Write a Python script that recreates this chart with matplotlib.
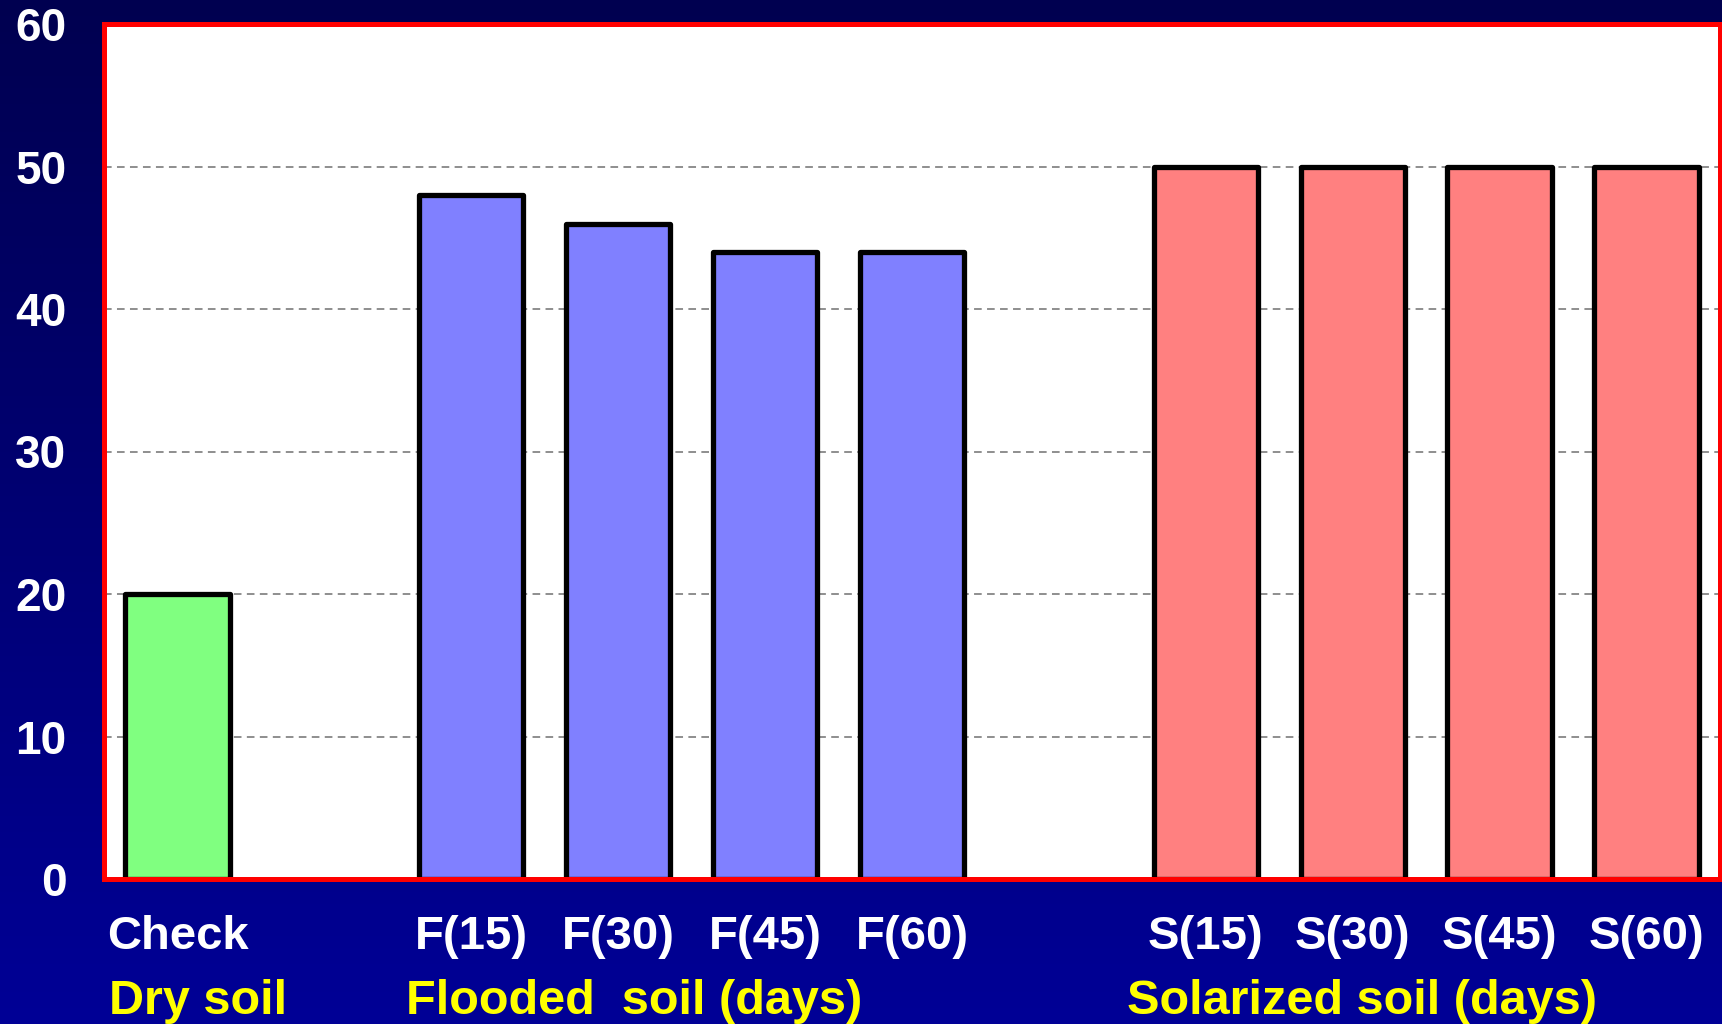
import numpy as np
import matplotlib
matplotlib.use("Agg")
import matplotlib.pyplot as plt

# Treatments, their positions on the x axis and the measured values
categories = ["Check", "F(15)", "F(30)", "F(45)", "F(60)",
              "S(15)", "S(30)", "S(45)", "S(60)"]
positions = [0, 2, 3, 4, 5, 7, 8, 9, 10]
values = [20, 48, 46, 44, 44, 50, 50, 50, 50]
bar_colors = ["#80FF80"] + ["#8080FF"] * 4 + ["#FF8080"] * 4

# Group captions under the tick labels (text, centre in data units)
group_labels = ["Dry soil", "Flooded  soil (days)", "Solarized soil (days)"]
group_centers = [0.14, 3.11, 8.06]

y_ticks = [0, 10, 20, 30, 40, 50, 60]

plt.rcParams["font.family"] = ["Liberation Sans", "DejaVu Sans"]
plt.rcParams["font.weight"] = "bold"

fig = plt.figure(figsize=(17.22, 10.24), dpi=100)

# Vertical navy gradient behind everything
bg = fig.add_axes([0, 0, 1, 1], zorder=-10)
top = np.array([0, 0, 80]) / 255
bottom = np.array([0, 0, 150]) / 255
t = np.linspace(0, 1, 256)[:, None]
grad = top[None, :] * (1 - t) + bottom[None, :] * t
bg.imshow(grad[:, None, :], aspect="auto", extent=[0, 1, 0, 1])
bg.set_axis_off()

W, H = 1722, 1024
left, right, top_px, bottom_px = 104, 1720, 24, 879
ax = fig.add_axes([left / W, 1 - bottom_px / H,
                   (right - left) / W, (bottom_px - top_px) / H])
ax.set_facecolor("white")

ax.bar(positions, values, width=0.71, color=bar_colors,
       edgecolor="black", linewidth=3.8, joinstyle="round", zorder=3)

ax.set_xlim(-0.5, 10.5)
ax.set_ylim(0, 60)
ax.set_yticks(y_ticks)
ax.set_yticklabels([str(v) for v in y_ticks], color="white",
                   fontsize=33, fontweight="bold")
ax.tick_params(axis="y", length=0, pad=27)
ax.set_xticks(positions)
ax.set_xticklabels(categories, color="white", fontsize=34, fontweight="bold")
ax.tick_params(axis="x", length=0, pad=26)

for v in y_ticks[1:-1]:
    ax.axhline(v, color="#707070", linewidth=1.1, linestyle=(0, (5, 3.5)),
               zorder=1)

for side in ["left", "right", "top", "bottom"]:
    ax.spines[side].set_color("#FF0000")
    ax.spines[side].set_linewidth(3.6)
    ax.spines[side].set_zorder(5)

for text, xc in zip(group_labels, group_centers):
    ax.text(xc, -0.143, text, transform=ax.get_xaxis_transform(),
            ha="center", va="center", color="#FFFF00",
            fontsize=35, fontweight="bold")

fig.savefig("out.png", dpi=100)
